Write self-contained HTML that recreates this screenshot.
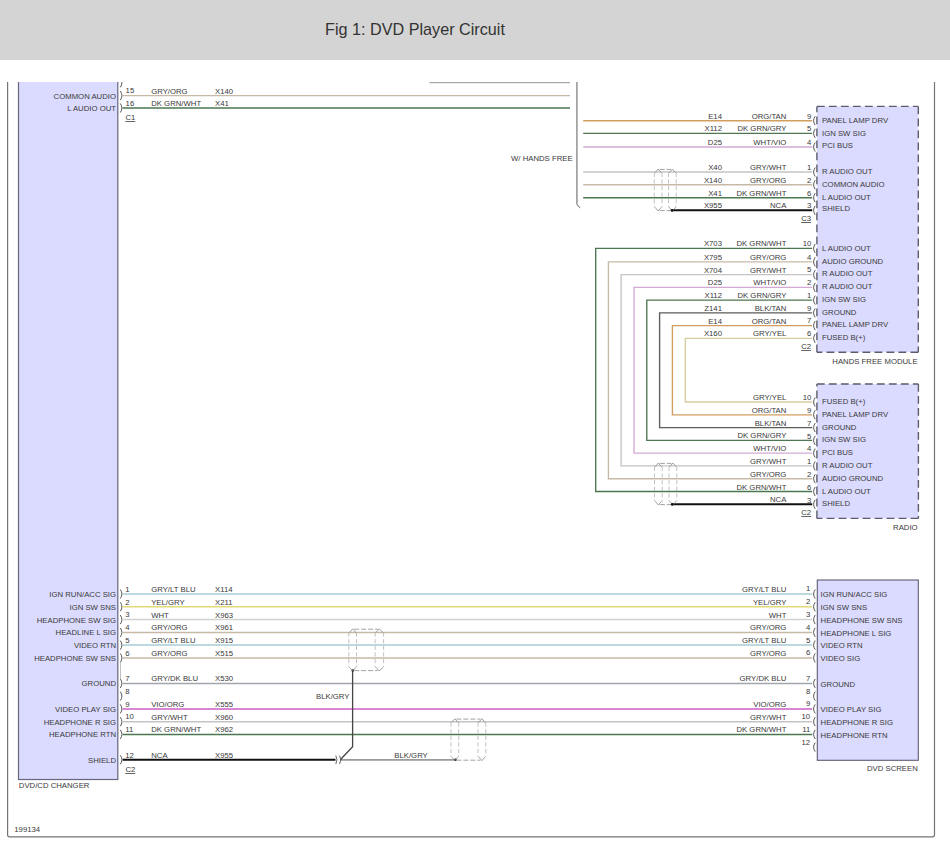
<!DOCTYPE html>
<html><head><meta charset="utf-8"><title>Fig 1: DVD Player Circuit</title>
<style>
html,body{margin:0;padding:0;background:#fff;width:950px;height:854px;overflow:hidden}
.hdr{position:absolute;left:0;top:0;width:950px;height:60px;background:#d4d4d4}
.hdr h1{position:absolute;left:325px;top:0;margin:0;font:16.2px "Liberation Sans",Arial,sans-serif;color:#333;line-height:1;top:20.8px;font-weight:normal;white-space:nowrap}
svg{position:absolute;left:0;top:0}
svg text{font-family:"Liberation Sans",Arial,sans-serif}
</style></head><body>
<div class="hdr"><h1>Fig 1: DVD Player Circuit</h1></div>
<svg width="950" height="854" viewBox="0 0 950 854">
<defs><clipPath id="cp"><rect x="0" y="81.9" width="950" height="780"/></clipPath></defs>
<g clip-path="url(#cp)">
<path d="M7.6,81 V834.7 Q7.6,836.8 9.7,836.8 H932.4 Q934.5,836.8 934.5,834.7 V81" stroke="#747474" stroke-width="1.2" fill="none"/>
<rect x="18.5" y="79" width="99.3" height="700.5" fill="#dadbfe" stroke="#66667e" stroke-width="1.2"/>
<line x1="429.5" y1="82.6" x2="570" y2="82.6" stroke="#a8a8a8" stroke-width="1.3"/>
<path d="M120.3,78.3 Q123.5,82.8 120.3,87.3" stroke="#444" stroke-width="0.9" fill="none"/>
<line x1="122.6" y1="95.6" x2="570" y2="95.6" stroke="#c8b9a7" stroke-width="1.4"/>
<path d="M120.3,91.1 Q123.5,95.6 120.3,100.1" stroke="#444" stroke-width="0.9" fill="none"/>
<text x="125.6" y="93.1" fill="#3a3a3a" font-size="7.75">15</text>
<text x="151.2" y="93.6" fill="#3a3a3a" font-size="7.75">GRY/ORG</text>
<text x="215" y="93.6" fill="#3a3a3a" font-size="7.75">X140</text>
<line x1="122.6" y1="108" x2="570" y2="108" stroke="#4a7650" stroke-width="1.4"/>
<path d="M120.3,103.5 Q123.5,108 120.3,112.5" stroke="#444" stroke-width="0.9" fill="none"/>
<text x="125.6" y="105.5" fill="#3a3a3a" font-size="7.75">16</text>
<text x="151.2" y="106" fill="#3a3a3a" font-size="7.75">DK GRN/WHT</text>
<text x="215" y="106" fill="#3a3a3a" font-size="7.75">X41</text>
<text x="125.4" y="120" fill="#3a3a3a" font-size="7.75" text-decoration="underline">C1</text>
<text x="116" y="98.6" text-anchor="end" fill="#3a3a3a" font-size="7.75">COMMON AUDIO</text>
<text x="116" y="111.3" text-anchor="end" fill="#3a3a3a" font-size="7.75">L AUDIO OUT</text>
<path d="M576.9,82 V204.5" stroke="#9a9a9a" stroke-width="1.6" fill="none"/>
<line x1="576.9" y1="204.6" x2="580.2" y2="207.8" stroke="#555" stroke-width="1.0"/>
<text x="572.6" y="161" text-anchor="end" fill="#3a3a3a" font-size="7.75">W/ HANDS FREE</text>
<rect x="816.9" y="106.4" width="101.39999999999998" height="245.79999999999998" fill="#dadbfe"/>
<line x1="816.9" y1="106.4" x2="918.3" y2="106.4" stroke="#5c5c6c" stroke-width="1.4" stroke-dasharray="7.8,4.2" stroke-linecap="butt"/>
<line x1="918.3" y1="106.4" x2="918.3" y2="352.2" stroke="#5c5c6c" stroke-width="1.4" stroke-dasharray="7.8,4.2" stroke-linecap="butt"/>
<line x1="918.3" y1="352.2" x2="816.9" y2="352.2" stroke="#5c5c6c" stroke-width="1.4" stroke-dasharray="7.8,4.2" stroke-linecap="butt"/>
<line x1="816.9" y1="352.2" x2="816.9" y2="106.4" stroke="#5c5c6c" stroke-width="1.4" stroke-dasharray="7.8,4.2" stroke-linecap="butt"/>
<rect x="816.9" y="384" width="101.5" height="134.39999999999998" fill="#dadbfe"/>
<line x1="816.9" y1="384" x2="918.4" y2="384" stroke="#5c5c6c" stroke-width="1.4" stroke-dasharray="7.8,4.2" stroke-linecap="butt"/>
<line x1="918.4" y1="384" x2="918.4" y2="518.4" stroke="#5c5c6c" stroke-width="1.4" stroke-dasharray="7.8,4.2" stroke-linecap="butt"/>
<line x1="918.4" y1="518.4" x2="816.9" y2="518.4" stroke="#5c5c6c" stroke-width="1.4" stroke-dasharray="7.8,4.2" stroke-linecap="butt"/>
<line x1="816.9" y1="518.4" x2="816.9" y2="384" stroke="#5c5c6c" stroke-width="1.4" stroke-dasharray="7.8,4.2" stroke-linecap="butt"/>
<line x1="583.2" y1="120.7" x2="812.2" y2="120.7" stroke="#d29e60" stroke-width="1.4"/>
<path d="M815.2,116.2 Q812.0,120.7 815.2,125.2" stroke="#444" stroke-width="0.9" fill="none"/>
<text x="811.3" y="118.5" text-anchor="end" fill="#3a3a3a" font-size="7.75">9</text>
<text x="786.4" y="118.7" text-anchor="end" fill="#3a3a3a" font-size="7.75">ORG/TAN</text>
<text x="722" y="118.7" text-anchor="end" fill="#3a3a3a" font-size="7.75">E14</text>
<text x="822" y="122.75" fill="#3a3a3a" font-size="7.75">PANEL LAMP DRV</text>
<line x1="583.2" y1="133.4" x2="812.2" y2="133.4" stroke="#4f7652" stroke-width="1.4"/>
<path d="M815.2,128.9 Q812.0,133.4 815.2,137.9" stroke="#444" stroke-width="0.9" fill="none"/>
<text x="811.3" y="131.20000000000002" text-anchor="end" fill="#3a3a3a" font-size="7.75">5</text>
<text x="786.4" y="131.4" text-anchor="end" fill="#3a3a3a" font-size="7.75">DK GRN/GRY</text>
<text x="722" y="131.4" text-anchor="end" fill="#3a3a3a" font-size="7.75">X112</text>
<text x="822" y="135.75" fill="#3a3a3a" font-size="7.75">IGN SW SIG</text>
<line x1="583.2" y1="147" x2="812.2" y2="147" stroke="#d4aad4" stroke-width="1.4"/>
<path d="M815.2,142.5 Q812.0,147 815.2,151.5" stroke="#444" stroke-width="0.9" fill="none"/>
<text x="811.3" y="144.8" text-anchor="end" fill="#3a3a3a" font-size="7.75">4</text>
<text x="786.4" y="145" text-anchor="end" fill="#3a3a3a" font-size="7.75">WHT/VIO</text>
<text x="722" y="145" text-anchor="end" fill="#3a3a3a" font-size="7.75">D25</text>
<text x="822" y="147.75" fill="#3a3a3a" font-size="7.75">PCI BUS</text>
<line x1="583.2" y1="172" x2="812.2" y2="172" stroke="#c4c4c4" stroke-width="1.4"/>
<path d="M815.2,167.5 Q812.0,172 815.2,176.5" stroke="#444" stroke-width="0.9" fill="none"/>
<text x="811.3" y="169.8" text-anchor="end" fill="#3a3a3a" font-size="7.75">1</text>
<text x="786.4" y="170" text-anchor="end" fill="#3a3a3a" font-size="7.75">GRY/WHT</text>
<text x="722" y="170" text-anchor="end" fill="#3a3a3a" font-size="7.75">X40</text>
<text x="822" y="173.75" fill="#3a3a3a" font-size="7.75">R AUDIO OUT</text>
<line x1="583.2" y1="184.8" x2="812.2" y2="184.8" stroke="#c8b9a7" stroke-width="1.4"/>
<path d="M815.2,180.3 Q812.0,184.8 815.2,189.3" stroke="#444" stroke-width="0.9" fill="none"/>
<text x="811.3" y="182.60000000000002" text-anchor="end" fill="#3a3a3a" font-size="7.75">2</text>
<text x="786.4" y="182.8" text-anchor="end" fill="#3a3a3a" font-size="7.75">GRY/ORG</text>
<text x="722" y="182.8" text-anchor="end" fill="#3a3a3a" font-size="7.75">X140</text>
<text x="822" y="186.75" fill="#3a3a3a" font-size="7.75">COMMON AUDIO</text>
<line x1="583.2" y1="197.7" x2="812.2" y2="197.7" stroke="#4a7650" stroke-width="1.4"/>
<path d="M815.2,193.2 Q812.0,197.7 815.2,202.2" stroke="#444" stroke-width="0.9" fill="none"/>
<text x="811.3" y="195.5" text-anchor="end" fill="#3a3a3a" font-size="7.75">6</text>
<text x="786.4" y="195.7" text-anchor="end" fill="#3a3a3a" font-size="7.75">DK GRN/WHT</text>
<text x="722" y="195.7" text-anchor="end" fill="#3a3a3a" font-size="7.75">X41</text>
<text x="822" y="199.75" fill="#3a3a3a" font-size="7.75">L AUDIO OUT</text>
<line x1="672" y1="210.3" x2="812.2" y2="210.3" stroke="#111111" stroke-width="2"/>
<path d="M815.2,205.8 Q812.0,210.3 815.2,214.8" stroke="#444" stroke-width="0.9" fill="none"/>
<text x="811.3" y="208.10000000000002" text-anchor="end" fill="#3a3a3a" font-size="7.75">3</text>
<text x="786.4" y="208.3" text-anchor="end" fill="#3a3a3a" font-size="7.75">NCA</text>
<text x="722" y="208.3" text-anchor="end" fill="#3a3a3a" font-size="7.75">X955</text>
<text x="822" y="211.35" fill="#3a3a3a" font-size="7.75">SHIELD</text>
<text x="811.2" y="221" text-anchor="end" fill="#3a3a3a" font-size="7.75" text-decoration="underline">C3</text>
<path d="M812.2,248.4 H595.7 V491.5 H812.2" stroke="#4a7650" stroke-width="1.35" fill="none" stroke-linejoin="miter"/>
<path d="M815.2,243.9 Q812.0,248.4 815.2,252.9" stroke="#444" stroke-width="0.9" fill="none"/>
<text x="811.3" y="246.20000000000002" text-anchor="end" fill="#3a3a3a" font-size="7.75">10</text>
<text x="786.4" y="246.4" text-anchor="end" fill="#3a3a3a" font-size="7.75">DK GRN/WHT</text>
<text x="722" y="246.4" text-anchor="end" fill="#3a3a3a" font-size="7.75">X703</text>
<text x="822" y="250.65" fill="#3a3a3a" font-size="7.75">L AUDIO OUT</text>
<path d="M812.2,261.9 H608.4 V478.7 H812.2" stroke="#c8b9a7" stroke-width="1.35" fill="none" stroke-linejoin="miter"/>
<path d="M815.2,257.4 Q812.0,261.9 815.2,266.4" stroke="#444" stroke-width="0.9" fill="none"/>
<text x="811.3" y="259.7" text-anchor="end" fill="#3a3a3a" font-size="7.75">4</text>
<text x="786.4" y="259.9" text-anchor="end" fill="#3a3a3a" font-size="7.75">GRY/ORG</text>
<text x="722" y="259.9" text-anchor="end" fill="#3a3a3a" font-size="7.75">X795</text>
<text x="822" y="263.85" fill="#3a3a3a" font-size="7.75">AUDIO GROUND</text>
<path d="M812.2,274.6 H621.1 V465.9 H812.2" stroke="#c4c4c4" stroke-width="1.35" fill="none" stroke-linejoin="miter"/>
<path d="M815.2,270.1 Q812.0,274.6 815.2,279.1" stroke="#444" stroke-width="0.9" fill="none"/>
<text x="811.3" y="272.40000000000003" text-anchor="end" fill="#3a3a3a" font-size="7.75">5</text>
<text x="786.4" y="272.6" text-anchor="end" fill="#3a3a3a" font-size="7.75">GRY/WHT</text>
<text x="722" y="272.6" text-anchor="end" fill="#3a3a3a" font-size="7.75">X704</text>
<text x="822" y="275.65" fill="#3a3a3a" font-size="7.75">R AUDIO OUT</text>
<path d="M812.2,287.4 H634 V453.1 H812.2" stroke="#d4aad4" stroke-width="1.35" fill="none" stroke-linejoin="miter"/>
<path d="M815.2,282.9 Q812.0,287.4 815.2,291.9" stroke="#444" stroke-width="0.9" fill="none"/>
<text x="811.3" y="285.2" text-anchor="end" fill="#3a3a3a" font-size="7.75">2</text>
<text x="786.4" y="285.4" text-anchor="end" fill="#3a3a3a" font-size="7.75">WHT/VIO</text>
<text x="722" y="285.4" text-anchor="end" fill="#3a3a3a" font-size="7.75">D25</text>
<text x="822" y="288.55" fill="#3a3a3a" font-size="7.75">R AUDIO OUT</text>
<path d="M812.2,300.1 H646.8 V440.4 H812.2" stroke="#4f7652" stroke-width="1.35" fill="none" stroke-linejoin="miter"/>
<path d="M815.2,295.6 Q812.0,300.1 815.2,304.6" stroke="#444" stroke-width="0.9" fill="none"/>
<text x="811.3" y="297.90000000000003" text-anchor="end" fill="#3a3a3a" font-size="7.75">1</text>
<text x="786.4" y="298.1" text-anchor="end" fill="#3a3a3a" font-size="7.75">DK GRN/GRY</text>
<text x="722" y="298.1" text-anchor="end" fill="#3a3a3a" font-size="7.75">X112</text>
<text x="822" y="301.55" fill="#3a3a3a" font-size="7.75">IGN SW SIG</text>
<path d="M812.2,312.9 H659.6 V427.6 H812.2" stroke="#5c5c5a" stroke-width="1.35" fill="none" stroke-linejoin="miter"/>
<path d="M815.2,308.4 Q812.0,312.9 815.2,317.4" stroke="#444" stroke-width="0.9" fill="none"/>
<text x="811.3" y="310.7" text-anchor="end" fill="#3a3a3a" font-size="7.75">9</text>
<text x="786.4" y="310.9" text-anchor="end" fill="#3a3a3a" font-size="7.75">BLK/TAN</text>
<text x="722" y="310.9" text-anchor="end" fill="#3a3a3a" font-size="7.75">Z141</text>
<text x="822" y="314.75" fill="#3a3a3a" font-size="7.75">GROUND</text>
<path d="M812.2,325.6 H672.4 V414.8 H812.2" stroke="#d29e60" stroke-width="1.35" fill="none" stroke-linejoin="miter"/>
<path d="M815.2,321.1 Q812.0,325.6 815.2,330.1" stroke="#444" stroke-width="0.9" fill="none"/>
<text x="811.3" y="323.40000000000003" text-anchor="end" fill="#3a3a3a" font-size="7.75">7</text>
<text x="786.4" y="323.6" text-anchor="end" fill="#3a3a3a" font-size="7.75">ORG/TAN</text>
<text x="722" y="323.6" text-anchor="end" fill="#3a3a3a" font-size="7.75">E14</text>
<text x="822" y="326.95" fill="#3a3a3a" font-size="7.75">PANEL LAMP DRV</text>
<path d="M812.2,338.4 H685.3 V402 H812.2" stroke="#d8cba0" stroke-width="1.35" fill="none" stroke-linejoin="miter"/>
<path d="M815.2,333.9 Q812.0,338.4 815.2,342.9" stroke="#444" stroke-width="0.9" fill="none"/>
<text x="811.3" y="336.2" text-anchor="end" fill="#3a3a3a" font-size="7.75">6</text>
<text x="786.4" y="336.4" text-anchor="end" fill="#3a3a3a" font-size="7.75">GRY/YEL</text>
<text x="722" y="336.4" text-anchor="end" fill="#3a3a3a" font-size="7.75">X160</text>
<text x="822" y="339.65" fill="#3a3a3a" font-size="7.75">FUSED B(+)</text>
<text x="811.2" y="349" text-anchor="end" fill="#3a3a3a" font-size="7.75" text-decoration="underline">C2</text>
<text x="917.6" y="364" text-anchor="end" fill="#3a3a3a" font-size="7.75">HANDS FREE MODULE</text>
<path d="M815.2,397.5 Q812.0,402 815.2,406.5" stroke="#444" stroke-width="0.9" fill="none"/>
<text x="811.3" y="400.2" text-anchor="end" fill="#3a3a3a" font-size="7.75">10</text>
<text x="786.4" y="400" text-anchor="end" fill="#3a3a3a" font-size="7.75">GRY/YEL</text>
<text x="822" y="404" fill="#3a3a3a" font-size="7.75">FUSED B(+)</text>
<path d="M815.2,410.3 Q812.0,414.8 815.2,419.3" stroke="#444" stroke-width="0.9" fill="none"/>
<text x="811.3" y="413.0" text-anchor="end" fill="#3a3a3a" font-size="7.75">9</text>
<text x="786.4" y="412.8" text-anchor="end" fill="#3a3a3a" font-size="7.75">ORG/TAN</text>
<text x="822" y="416.8" fill="#3a3a3a" font-size="7.75">PANEL LAMP DRV</text>
<path d="M815.2,423.1 Q812.0,427.6 815.2,432.1" stroke="#444" stroke-width="0.9" fill="none"/>
<text x="811.3" y="425.8" text-anchor="end" fill="#3a3a3a" font-size="7.75">7</text>
<text x="786.4" y="425.6" text-anchor="end" fill="#3a3a3a" font-size="7.75">BLK/TAN</text>
<text x="822" y="429.6" fill="#3a3a3a" font-size="7.75">GROUND</text>
<path d="M815.2,435.9 Q812.0,440.4 815.2,444.9" stroke="#444" stroke-width="0.9" fill="none"/>
<text x="811.3" y="438.59999999999997" text-anchor="end" fill="#3a3a3a" font-size="7.75">5</text>
<text x="786.4" y="438.4" text-anchor="end" fill="#3a3a3a" font-size="7.75">DK GRN/GRY</text>
<text x="822" y="442.4" fill="#3a3a3a" font-size="7.75">IGN SW SIG</text>
<path d="M815.2,448.6 Q812.0,453.1 815.2,457.6" stroke="#444" stroke-width="0.9" fill="none"/>
<text x="811.3" y="451.3" text-anchor="end" fill="#3a3a3a" font-size="7.75">4</text>
<text x="786.4" y="451.1" text-anchor="end" fill="#3a3a3a" font-size="7.75">WHT/VIO</text>
<text x="822" y="455.1" fill="#3a3a3a" font-size="7.75">PCI BUS</text>
<path d="M815.2,461.4 Q812.0,465.9 815.2,470.4" stroke="#444" stroke-width="0.9" fill="none"/>
<text x="811.3" y="464.09999999999997" text-anchor="end" fill="#3a3a3a" font-size="7.75">1</text>
<text x="786.4" y="463.9" text-anchor="end" fill="#3a3a3a" font-size="7.75">GRY/WHT</text>
<text x="822" y="467.9" fill="#3a3a3a" font-size="7.75">R AUDIO OUT</text>
<path d="M815.2,474.2 Q812.0,478.7 815.2,483.2" stroke="#444" stroke-width="0.9" fill="none"/>
<text x="811.3" y="476.9" text-anchor="end" fill="#3a3a3a" font-size="7.75">2</text>
<text x="786.4" y="476.7" text-anchor="end" fill="#3a3a3a" font-size="7.75">GRY/ORG</text>
<text x="822" y="480.7" fill="#3a3a3a" font-size="7.75">AUDIO GROUND</text>
<path d="M815.2,487.0 Q812.0,491.5 815.2,496.0" stroke="#444" stroke-width="0.9" fill="none"/>
<text x="811.3" y="489.7" text-anchor="end" fill="#3a3a3a" font-size="7.75">6</text>
<text x="786.4" y="489.5" text-anchor="end" fill="#3a3a3a" font-size="7.75">DK GRN/WHT</text>
<text x="822" y="493.5" fill="#3a3a3a" font-size="7.75">L AUDIO OUT</text>
<line x1="672.2" y1="504.3" x2="812.2" y2="504.3" stroke="#111111" stroke-width="2"/>
<path d="M815.2,499.8 Q812.0,504.3 815.2,508.8" stroke="#444" stroke-width="0.9" fill="none"/>
<text x="811.3" y="502.5" text-anchor="end" fill="#3a3a3a" font-size="7.75">3</text>
<text x="786.4" y="502.3" text-anchor="end" fill="#3a3a3a" font-size="7.75">NCA</text>
<text x="822" y="506.3" fill="#3a3a3a" font-size="7.75">SHIELD</text>
<text x="811.2" y="515" text-anchor="end" fill="#3a3a3a" font-size="7.75" text-decoration="underline">C2</text>
<text x="917.6" y="530" text-anchor="end" fill="#3a3a3a" font-size="7.75">RADIO</text>
<line x1="654.3" y1="172.8" x2="654.3" y2="207.2" stroke="#b2b2b2" stroke-width="0.8" stroke-dasharray="4.2,2.4"/>
<line x1="662" y1="172.8" x2="662" y2="207.2" stroke="#b2b2b2" stroke-width="0.8" stroke-dasharray="4.2,2.4"/>
<path d="M654.9,172.8 L658.15,169 L661.4,172.8" stroke="#8a8a8a" stroke-width="0.8" fill="none"/>
<path d="M654.9,207.2 L658.15,211 L661.4,207.2" stroke="#8a8a8a" stroke-width="0.8" fill="none"/>
<line x1="668.5" y1="172.8" x2="668.5" y2="207.2" stroke="#b2b2b2" stroke-width="0.8" stroke-dasharray="4.2,2.4"/>
<line x1="676.2" y1="172.8" x2="676.2" y2="207.2" stroke="#b2b2b2" stroke-width="0.8" stroke-dasharray="4.2,2.4"/>
<path d="M669.1,172.8 L672.35,169 L675.6,172.8" stroke="#8a8a8a" stroke-width="0.8" fill="none"/>
<path d="M669.1,207.2 L672.35,211 L675.6,207.2" stroke="#8a8a8a" stroke-width="0.8" fill="none"/>
<line x1="659.65" y1="169.4" x2="670.85" y2="169.4" stroke="#8a8a8a" stroke-width="0.8" stroke-dasharray="5,2"/>
<line x1="659.65" y1="210.6" x2="670.85" y2="210.6" stroke="#8a8a8a" stroke-width="0.8" stroke-dasharray="5,2"/>
<line x1="654.5" y1="466.8" x2="654.5" y2="501.2" stroke="#b2b2b2" stroke-width="0.8" stroke-dasharray="4.2,2.4"/>
<line x1="662.2" y1="466.8" x2="662.2" y2="501.2" stroke="#b2b2b2" stroke-width="0.8" stroke-dasharray="4.2,2.4"/>
<path d="M655.1,466.8 L658.35,463 L661.6,466.8" stroke="#8a8a8a" stroke-width="0.8" fill="none"/>
<path d="M655.1,501.2 L658.35,505 L661.6,501.2" stroke="#8a8a8a" stroke-width="0.8" fill="none"/>
<line x1="669" y1="466.8" x2="669" y2="501.2" stroke="#b2b2b2" stroke-width="0.8" stroke-dasharray="4.2,2.4"/>
<line x1="676.8" y1="466.8" x2="676.8" y2="501.2" stroke="#b2b2b2" stroke-width="0.8" stroke-dasharray="4.2,2.4"/>
<path d="M669.6,466.8 L672.9,463 L676.1999999999999,466.8" stroke="#8a8a8a" stroke-width="0.8" fill="none"/>
<path d="M669.6,501.2 L672.9,505 L676.1999999999999,501.2" stroke="#8a8a8a" stroke-width="0.8" fill="none"/>
<line x1="659.85" y1="463.4" x2="671.4" y2="463.4" stroke="#8a8a8a" stroke-width="0.8" stroke-dasharray="5,2"/>
<line x1="659.85" y1="504.6" x2="671.4" y2="504.6" stroke="#8a8a8a" stroke-width="0.8" stroke-dasharray="5,2"/>
<circle cx="672" cy="210.4" r="1.3" fill="#111"/>
<circle cx="672.2" cy="504.4" r="1.3" fill="#111"/>
<rect x="817.3" y="580" width="101" height="180.3" fill="#dadbfe" stroke="#5e5c74" stroke-width="1.1"/>
<path d="M120.3,589.5 Q123.5,594 120.3,598.5" stroke="#444" stroke-width="0.9" fill="none"/>
<text x="125.3" y="591.7" fill="#3a3a3a" font-size="7.75">1</text>
<line x1="122.6" y1="594" x2="812.2" y2="594" stroke="#a6cdd4" stroke-width="1.5"/>
<text x="151.2" y="592" fill="#3a3a3a" font-size="7.75">GRY/LT BLU</text>
<text x="215" y="592" fill="#3a3a3a" font-size="7.75">X114</text>
<text x="116" y="596.9" text-anchor="end" fill="#3a3a3a" font-size="7.75">IGN RUN/ACC SIG</text>
<path d="M120.3,602.3 Q123.5,606.8 120.3,611.3" stroke="#444" stroke-width="0.9" fill="none"/>
<text x="125.3" y="604.5" fill="#3a3a3a" font-size="7.75">2</text>
<line x1="122.6" y1="606.8" x2="812.2" y2="606.8" stroke="#e2da78" stroke-width="1.5"/>
<text x="151.2" y="604.8" fill="#3a3a3a" font-size="7.75">YEL/GRY</text>
<text x="215" y="604.8" fill="#3a3a3a" font-size="7.75">X211</text>
<text x="116" y="609.6999999999999" text-anchor="end" fill="#3a3a3a" font-size="7.75">IGN SW SNS</text>
<path d="M120.3,615.1 Q123.5,619.6 120.3,624.1" stroke="#444" stroke-width="0.9" fill="none"/>
<text x="125.3" y="617.3000000000001" fill="#3a3a3a" font-size="7.75">3</text>
<line x1="122.6" y1="619.6" x2="812.2" y2="619.6" stroke="#d2d2d2" stroke-width="1.5"/>
<text x="151.2" y="617.6" fill="#3a3a3a" font-size="7.75">WHT</text>
<text x="215" y="617.6" fill="#3a3a3a" font-size="7.75">X963</text>
<text x="116" y="622.5" text-anchor="end" fill="#3a3a3a" font-size="7.75">HEADPHONE SW SIG</text>
<path d="M120.3,627.9 Q123.5,632.4 120.3,636.9" stroke="#444" stroke-width="0.9" fill="none"/>
<text x="125.3" y="630.1" fill="#3a3a3a" font-size="7.75">4</text>
<line x1="122.6" y1="632.4" x2="812.2" y2="632.4" stroke="#c8b9a7" stroke-width="1.5"/>
<text x="151.2" y="630.4" fill="#3a3a3a" font-size="7.75">GRY/ORG</text>
<text x="215" y="630.4" fill="#3a3a3a" font-size="7.75">X961</text>
<text x="116" y="635.3" text-anchor="end" fill="#3a3a3a" font-size="7.75">HEADLINE L SIG</text>
<path d="M120.3,640.6 Q123.5,645.1 120.3,649.6" stroke="#444" stroke-width="0.9" fill="none"/>
<text x="125.3" y="642.8000000000001" fill="#3a3a3a" font-size="7.75">5</text>
<line x1="122.6" y1="645.1" x2="812.2" y2="645.1" stroke="#a6cdd4" stroke-width="1.5"/>
<text x="151.2" y="643.1" fill="#3a3a3a" font-size="7.75">GRY/LT BLU</text>
<text x="215" y="643.1" fill="#3a3a3a" font-size="7.75">X915</text>
<text x="116" y="648.0" text-anchor="end" fill="#3a3a3a" font-size="7.75">VIDEO RTN</text>
<path d="M120.3,653.4 Q123.5,657.9 120.3,662.4" stroke="#444" stroke-width="0.9" fill="none"/>
<text x="125.3" y="655.6" fill="#3a3a3a" font-size="7.75">6</text>
<line x1="122.6" y1="657.9" x2="812.2" y2="657.9" stroke="#c8b9a7" stroke-width="1.5"/>
<text x="151.2" y="655.9" fill="#3a3a3a" font-size="7.75">GRY/ORG</text>
<text x="215" y="655.9" fill="#3a3a3a" font-size="7.75">X515</text>
<text x="116" y="660.8" text-anchor="end" fill="#3a3a3a" font-size="7.75">HEADPHONE SW SNS</text>
<path d="M120.3,678.9 Q123.5,683.4 120.3,687.9" stroke="#444" stroke-width="0.9" fill="none"/>
<text x="125.3" y="681.1" fill="#3a3a3a" font-size="7.75">7</text>
<line x1="122.6" y1="683.4" x2="812.2" y2="683.4" stroke="#a2a6ac" stroke-width="1.5"/>
<text x="151.2" y="681.4" fill="#3a3a3a" font-size="7.75">GRY/DK BLU</text>
<text x="215" y="681.4" fill="#3a3a3a" font-size="7.75">X530</text>
<text x="116" y="686.3" text-anchor="end" fill="#3a3a3a" font-size="7.75">GROUND</text>
<path d="M120.3,691.6 Q123.5,696.1 120.3,700.6" stroke="#444" stroke-width="0.9" fill="none"/>
<text x="125.3" y="693.8000000000001" fill="#3a3a3a" font-size="7.75">8</text>
<path d="M120.3,704.4 Q123.5,708.9 120.3,713.4" stroke="#444" stroke-width="0.9" fill="none"/>
<text x="125.3" y="706.6" fill="#3a3a3a" font-size="7.75">9</text>
<line x1="122.6" y1="708.9" x2="812.2" y2="708.9" stroke="#cc5fc4" stroke-width="1.5"/>
<text x="151.2" y="706.9" fill="#3a3a3a" font-size="7.75">VIO/ORG</text>
<text x="215" y="706.9" fill="#3a3a3a" font-size="7.75">X555</text>
<text x="116" y="711.8" text-anchor="end" fill="#3a3a3a" font-size="7.75">VIDEO PLAY SIG</text>
<path d="M120.3,717.2 Q123.5,721.7 120.3,726.2" stroke="#444" stroke-width="0.9" fill="none"/>
<text x="125.3" y="719.4000000000001" fill="#3a3a3a" font-size="7.75">10</text>
<line x1="122.6" y1="721.7" x2="812.2" y2="721.7" stroke="#c4c4c4" stroke-width="1.5"/>
<text x="151.2" y="719.7" fill="#3a3a3a" font-size="7.75">GRY/WHT</text>
<text x="215" y="719.7" fill="#3a3a3a" font-size="7.75">X960</text>
<text x="116" y="724.6" text-anchor="end" fill="#3a3a3a" font-size="7.75">HEADPHONE R SIG</text>
<path d="M120.3,729.9 Q123.5,734.4 120.3,738.9" stroke="#444" stroke-width="0.9" fill="none"/>
<text x="125.3" y="732.1" fill="#3a3a3a" font-size="7.75">11</text>
<line x1="122.6" y1="734.4" x2="812.2" y2="734.4" stroke="#4a7650" stroke-width="1.5"/>
<text x="151.2" y="732.4" fill="#3a3a3a" font-size="7.75">DK GRN/WHT</text>
<text x="215" y="732.4" fill="#3a3a3a" font-size="7.75">X962</text>
<text x="116" y="737.3" text-anchor="end" fill="#3a3a3a" font-size="7.75">HEADPHONE RTN</text>
<path d="M120.3,755.3 Q123.5,759.8 120.3,764.3" stroke="#444" stroke-width="0.9" fill="none"/>
<text x="125.3" y="757.5" fill="#3a3a3a" font-size="7.75">12</text>
<line x1="122.6" y1="759.8" x2="335.5" y2="759.8" stroke="#111111" stroke-width="2"/>
<text x="151.2" y="757.8" fill="#3a3a3a" font-size="7.75">NCA</text>
<text x="215" y="757.8" fill="#3a3a3a" font-size="7.75">X955</text>
<text x="116" y="762.6999999999999" text-anchor="end" fill="#3a3a3a" font-size="7.75">SHIELD</text>
<text x="125.4" y="772" fill="#3a3a3a" font-size="7.75" text-decoration="underline">C2</text>
<line x1="120.5" y1="662.5" x2="120.5" y2="679.5" stroke="#b0b0b0" stroke-width="0.8"/>
<text x="18.8" y="788.3" fill="#3a3a3a" font-size="7.75">DVD/CD CHANGER</text>
<text x="14.3" y="832" fill="#3a3a3a" font-size="7.75">199134</text>
<path d="M815.2,589.5 Q812.0,594 815.2,598.5" stroke="#444" stroke-width="0.9" fill="none"/>
<text x="810.2" y="591.4" text-anchor="end" fill="#3a3a3a" font-size="7.75">1</text>
<text x="786.4" y="592" text-anchor="end" fill="#3a3a3a" font-size="7.75">GRY/LT BLU</text>
<text x="820.6" y="597.3" fill="#3a3a3a" font-size="7.75">IGN RUN/ACC SIG</text>
<path d="M815.2,602.3 Q812.0,606.8 815.2,611.3" stroke="#444" stroke-width="0.9" fill="none"/>
<text x="810.2" y="604.1999999999999" text-anchor="end" fill="#3a3a3a" font-size="7.75">2</text>
<text x="786.4" y="604.8" text-anchor="end" fill="#3a3a3a" font-size="7.75">YEL/GRY</text>
<text x="820.6" y="610.0999999999999" fill="#3a3a3a" font-size="7.75">IGN SW SNS</text>
<path d="M815.2,615.1 Q812.0,619.6 815.2,624.1" stroke="#444" stroke-width="0.9" fill="none"/>
<text x="810.2" y="617.0" text-anchor="end" fill="#3a3a3a" font-size="7.75">3</text>
<text x="786.4" y="617.6" text-anchor="end" fill="#3a3a3a" font-size="7.75">WHT</text>
<text x="820.6" y="622.9" fill="#3a3a3a" font-size="7.75">HEADPHONE SW SNS</text>
<path d="M815.2,627.9 Q812.0,632.4 815.2,636.9" stroke="#444" stroke-width="0.9" fill="none"/>
<text x="810.2" y="629.8" text-anchor="end" fill="#3a3a3a" font-size="7.75">4</text>
<text x="786.4" y="630.4" text-anchor="end" fill="#3a3a3a" font-size="7.75">GRY/ORG</text>
<text x="820.6" y="635.6999999999999" fill="#3a3a3a" font-size="7.75">HEADPHONE L SIG</text>
<path d="M815.2,640.6 Q812.0,645.1 815.2,649.6" stroke="#444" stroke-width="0.9" fill="none"/>
<text x="810.2" y="642.5" text-anchor="end" fill="#3a3a3a" font-size="7.75">5</text>
<text x="786.4" y="643.1" text-anchor="end" fill="#3a3a3a" font-size="7.75">GRY/LT BLU</text>
<text x="820.6" y="648.4" fill="#3a3a3a" font-size="7.75">VIDEO RTN</text>
<path d="M815.2,653.4 Q812.0,657.9 815.2,662.4" stroke="#444" stroke-width="0.9" fill="none"/>
<text x="810.2" y="655.3" text-anchor="end" fill="#3a3a3a" font-size="7.75">6</text>
<text x="786.4" y="655.9" text-anchor="end" fill="#3a3a3a" font-size="7.75">GRY/ORG</text>
<text x="820.6" y="661.1999999999999" fill="#3a3a3a" font-size="7.75">VIDEO SIG</text>
<path d="M815.2,678.9 Q812.0,683.4 815.2,687.9" stroke="#444" stroke-width="0.9" fill="none"/>
<text x="810.2" y="680.8" text-anchor="end" fill="#3a3a3a" font-size="7.75">7</text>
<text x="786.4" y="681.4" text-anchor="end" fill="#3a3a3a" font-size="7.75">GRY/DK BLU</text>
<text x="820.6" y="686.6999999999999" fill="#3a3a3a" font-size="7.75">GROUND</text>
<path d="M815.2,691.6 Q812.0,696.1 815.2,700.6" stroke="#444" stroke-width="0.9" fill="none"/>
<text x="810.2" y="693.5" text-anchor="end" fill="#3a3a3a" font-size="7.75">8</text>
<path d="M815.2,704.4 Q812.0,708.9 815.2,713.4" stroke="#444" stroke-width="0.9" fill="none"/>
<text x="810.2" y="706.3" text-anchor="end" fill="#3a3a3a" font-size="7.75">9</text>
<text x="786.4" y="706.9" text-anchor="end" fill="#3a3a3a" font-size="7.75">VIO/ORG</text>
<text x="820.6" y="712.1999999999999" fill="#3a3a3a" font-size="7.75">VIDEO PLAY SIG</text>
<path d="M815.2,717.2 Q812.0,721.7 815.2,726.2" stroke="#444" stroke-width="0.9" fill="none"/>
<text x="810.2" y="719.1" text-anchor="end" fill="#3a3a3a" font-size="7.75">10</text>
<text x="786.4" y="719.7" text-anchor="end" fill="#3a3a3a" font-size="7.75">GRY/WHT</text>
<text x="820.6" y="725.0" fill="#3a3a3a" font-size="7.75">HEADPHONE R SIG</text>
<path d="M815.2,729.9 Q812.0,734.4 815.2,738.9" stroke="#444" stroke-width="0.9" fill="none"/>
<text x="810.2" y="731.8" text-anchor="end" fill="#3a3a3a" font-size="7.75">11</text>
<text x="786.4" y="732.4" text-anchor="end" fill="#3a3a3a" font-size="7.75">DK GRN/WHT</text>
<text x="820.6" y="737.6999999999999" fill="#3a3a3a" font-size="7.75">HEADPHONE RTN</text>
<path d="M815.2,742.6 Q812.0,747.1 815.2,751.6" stroke="#444" stroke-width="0.9" fill="none"/>
<text x="810.2" y="744.5" text-anchor="end" fill="#3a3a3a" font-size="7.75">12</text>
<text x="917.8" y="770.6" text-anchor="end" fill="#3a3a3a" font-size="7.75">DVD SCREEN</text>
<line x1="340.3" y1="759.8" x2="455.4" y2="759.8" stroke="#9a9a9a" stroke-width="1.8"/>
<path d="M352.6,670.4 V746.8 L340.3,759.7" stroke="#444" stroke-width="1.3" fill="none"/>
<path d="M335.8,755.6 Q338.2,759.8 335.8,764" stroke="#555" stroke-width="0.9" fill="none"/>
<path d="M339.6,755.6 Q342,759.8 339.6,764" stroke="#555" stroke-width="0.9" fill="none"/>
<text x="316" y="699" fill="#3a3a3a" font-size="7.75">BLK/GRY</text>
<text x="394.3" y="757.5" fill="#3a3a3a" font-size="7.75">BLK/GRY</text>
<circle cx="352.8" cy="670.4" r="1.2" fill="#111"/>
<circle cx="455.4" cy="759.8" r="1.2" fill="#111"/>
<line x1="348.8" y1="632.5999999999999" x2="348.8" y2="667.2" stroke="#b2b2b2" stroke-width="0.8" stroke-dasharray="4.2,2.4"/>
<line x1="356.5" y1="632.5999999999999" x2="356.5" y2="667.2" stroke="#b2b2b2" stroke-width="0.8" stroke-dasharray="4.2,2.4"/>
<path d="M349.40000000000003,632.5999999999999 L352.65,628.8 L355.9,632.5999999999999" stroke="#8a8a8a" stroke-width="0.8" fill="none"/>
<path d="M349.40000000000003,667.2 L352.65,671 L355.9,667.2" stroke="#8a8a8a" stroke-width="0.8" fill="none"/>
<line x1="375.1" y1="632.5999999999999" x2="375.1" y2="667.2" stroke="#b2b2b2" stroke-width="0.8" stroke-dasharray="4.2,2.4"/>
<line x1="383.6" y1="632.5999999999999" x2="383.6" y2="667.2" stroke="#b2b2b2" stroke-width="0.8" stroke-dasharray="4.2,2.4"/>
<path d="M375.70000000000005,632.5999999999999 L379.35,628.8 L383.0,632.5999999999999" stroke="#8a8a8a" stroke-width="0.8" fill="none"/>
<path d="M375.70000000000005,667.2 L379.35,671 L383.0,667.2" stroke="#8a8a8a" stroke-width="0.8" fill="none"/>
<line x1="354.15" y1="629.1999999999999" x2="377.85" y2="629.1999999999999" stroke="#8a8a8a" stroke-width="0.8" stroke-dasharray="5,2"/>
<line x1="354.15" y1="670.6" x2="377.85" y2="670.6" stroke="#8a8a8a" stroke-width="0.8" stroke-dasharray="5,2"/>
<line x1="451" y1="722.5" x2="451" y2="756.8000000000001" stroke="#b2b2b2" stroke-width="0.8" stroke-dasharray="4.2,2.4"/>
<line x1="458.7" y1="722.5" x2="458.7" y2="756.8000000000001" stroke="#b2b2b2" stroke-width="0.8" stroke-dasharray="4.2,2.4"/>
<path d="M451.6,722.5 L454.85,718.7 L458.09999999999997,722.5" stroke="#8a8a8a" stroke-width="0.8" fill="none"/>
<path d="M451.6,756.8000000000001 L454.85,760.6 L458.09999999999997,756.8000000000001" stroke="#8a8a8a" stroke-width="0.8" fill="none"/>
<line x1="478" y1="722.5" x2="478" y2="756.8000000000001" stroke="#b2b2b2" stroke-width="0.8" stroke-dasharray="4.2,2.4"/>
<line x1="485.8" y1="722.5" x2="485.8" y2="756.8000000000001" stroke="#b2b2b2" stroke-width="0.8" stroke-dasharray="4.2,2.4"/>
<path d="M478.6,722.5 L481.9,718.7 L485.2,722.5" stroke="#8a8a8a" stroke-width="0.8" fill="none"/>
<path d="M478.6,756.8000000000001 L481.9,760.6 L485.2,756.8000000000001" stroke="#8a8a8a" stroke-width="0.8" fill="none"/>
<line x1="456.35" y1="719.1" x2="480.4" y2="719.1" stroke="#8a8a8a" stroke-width="0.8" stroke-dasharray="5,2"/>
<line x1="456.35" y1="760.2" x2="480.4" y2="760.2" stroke="#8a8a8a" stroke-width="0.8" stroke-dasharray="5,2"/>
</g>
</svg>
</body></html>
